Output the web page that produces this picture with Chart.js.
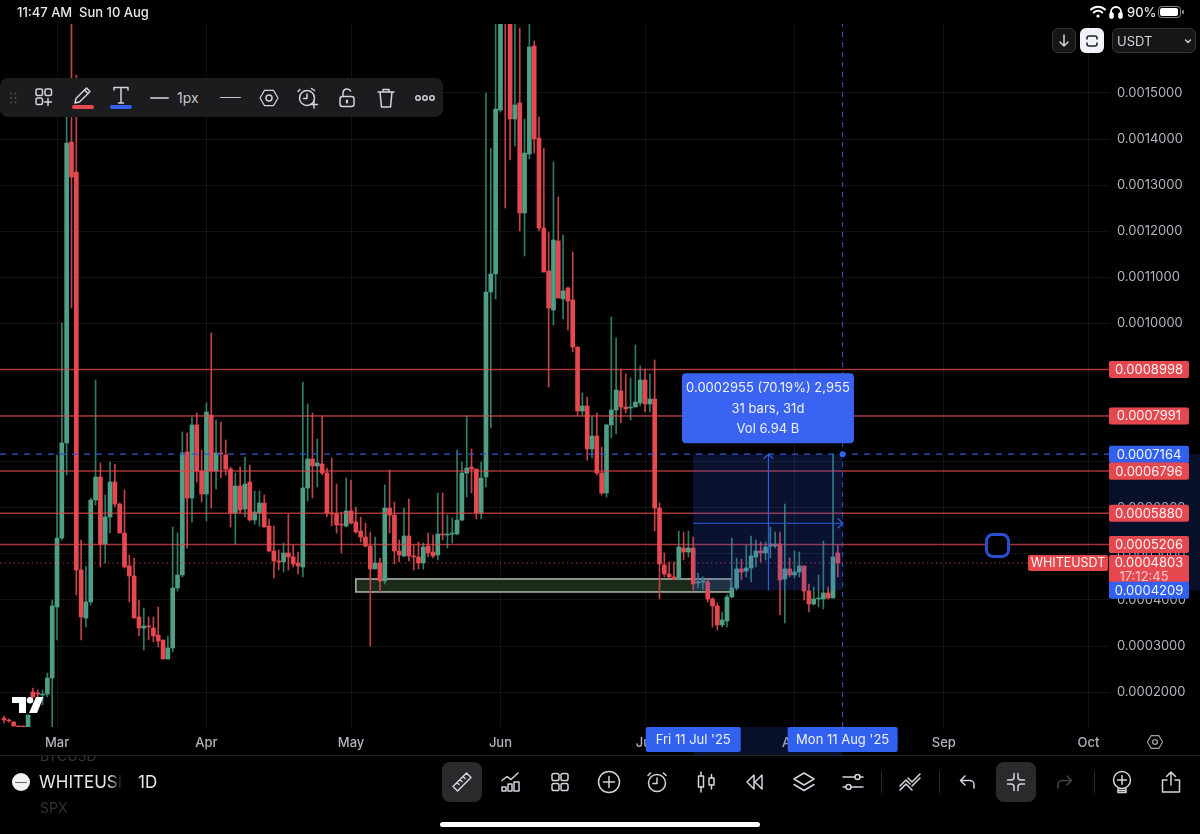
<!DOCTYPE html>
<html>
<head>
<meta charset="utf-8">
<title>WHITEUSDT 1D</title>
<script src="https://cdn.jsdelivr.net/npm/chart.js@4"></script>
<style>
  html, body { margin: 0; padding: 0; background: #000; width: 1200px; height: 834px; overflow: hidden; }
  body { position: relative; font-family: Inter, "Noto Sans", sans-serif; color: #d1d4dc; }
  canvas { position: absolute; left: 0; top: 0; }
  .t { position: absolute; white-space: nowrap; line-height: 1; }
  .box { position: absolute; box-sizing: border-box; border-radius: 6px; }
  svg.i { position: absolute; fill: none; stroke: #d1d4dc; stroke-width: 1.5; stroke-linecap: round; stroke-linejoin: round; overflow: visible; }
</style>
</head>
<body>
<canvas id="priceChart" width="1200" height="755"></canvas>
<div id="chrome"></div>
<script>
// prices are in ticks of 0.0000001, first candle is 11 days before 1 Mar
const firstDay = -11;
const opens = [
  1439,1396,1353,1266,1266,1179,2004,1982,1939,1960,
  2308,3848,5344,7406,13937,13286,4651,3609,3957,6169,
  6668,5214,5800,6560,6082,5453,4738,4521,3631,3392,
  3436,3392,3241,3132,2720,2958,4260,4543,7211,6212,
  7797,6798,6299,8014,6798,7189,7146,6842,5887,6473,
  5974,6560,5735,5887,6104,5605,5063,4846,4825,5020,
  4933,4803,4716,6430,7059,6907,6950,6755,5887,5865,
  5648,5605,5930,5692,5496,5366,5171,4673,4803,4413,
  5995,5843,5063,4955,5388,4955,4933,4803,5171,5041,
  4977,5431,5410,5431,5431,5735,6755,6885,6842,5887,
  6668,10683,11073,14631,17900,17300,14436,14783,12397,13676,
  16020,14023,12071,11138,10292,11789,10531,10770,10509,9489,
  8100,8209,7276,7558,6755,6321,7797,8122,8534,8187,
  8165,8187,8274,8773,8252,8361,5995,4760,4564,4500,
  4456,5127,5041,5127,4369,4391,4391,4022,3870,3458,
  3544,4065,4260,4673,4629,4694,4933,5063,5020,5171,
  5171,5214,4456,4673,4543,4608,4738,4195,3913,4022,
  4022,4152,4043,5020
];
const highs = [
  1483,1418,1353,1266,1266,1504,2090,2047,2047,2416,
  4000,7146,10010,14479,16900,15391,5301,4738,6212,8773,
  6972,6278,6994,6950,6104,6386,4977,4911,4000,3826,
  3631,3631,3848,3132,3219,5583,5453,7645,7623,7970,
  8057,7254,8274,9793,7905,7862,7471,6885,6755,6885,
  7102,6929,6364,6364,6278,5757,5605,5085,5236,5865,
  5193,5041,8730,8252,8057,7493,7992,6863,7080,6516,
  5908,6646,6603,6017,5800,5670,5475,5366,4911,6495,
  6820,6126,5301,5995,6191,5193,5258,5236,5453,5410,
  6321,6321,5843,5778,7254,6994,7992,7276,6842,6994,
  15000,13806,16900,17400,18000,17500,17100,16410,14436,16900,
  16128,14479,13806,11984,13503,12744,11919,10791,11550,9489,
  8491,8404,7992,8057,7319,7818,10140,9684,9012,8903,
  8817,9532,9077,9012,8903,9207,6104,5020,4825,4825,
  5496,5475,5496,5366,4586,4500,4434,4043,3935,3740,
  4109,5344,4911,4890,5193,5388,5301,5258,5258,5583,
  5475,5475,6082,4911,5063,5041,4738,4347,4282,4543,
  5279,4282,7167,5193
];
const lows = [
  1331,1353,1266,1245,1245,1179,1873,1830,1722,1895,
  1245,3132,5301,6712,10335,4109,3132,3414,3891,6060,
  4716,4803,5453,6017,5453,4694,3957,3609,3219,2915,
  3132,3089,2980,2720,2720,2872,4195,4500,5127,5692,
  6560,6126,5713,5995,6408,6646,6712,5583,5214,5887,
  5800,5713,5648,5605,5583,5041,4477,4651,4608,4651,
  4716,4564,4500,6147,6212,6451,6712,5800,5605,5453,
  5020,5583,5648,5453,5258,5150,3002,4673,4174,4347,
  5453,4781,4825,4933,4846,4651,4673,4673,4933,4911,
  4868,5301,5127,5236,5410,5713,6234,6321,5757,5757,
  6451,7731,10531,14588,12505,13546,13850,12006,11464,13568,
  13698,12006,11116,8621,9966,10552,10097,9858,9381,7992,
  8014,7037,7080,6712,6278,6234,7514,7601,7840,8057,
  7905,8187,8209,8078,8078,5496,4022,4500,4477,4434,
  4434,4868,4933,4217,4260,4217,3957,3414,3349,3414,
  3414,4043,4217,4434,4500,4391,4716,4825,4868,4911,
  5127,3674,3501,4500,4477,4500,4000,3740,3891,3848,
  3805,4022,4043,4500
];
const closes = [
  1396,1374,1266,1245,1245,1504,1895,1960,1960,2308,
  3870,5344,7406,13915,13177,4651,3631,3957,6169,6668,
  5214,5800,6560,6082,5453,4716,4521,3609,3392,3436,
  3414,3219,3110,2720,2958,4260,4543,7189,6212,7797,
  6798,6299,8078,6798,7189,7167,6842,5887,6473,5952,
  6516,5735,5908,6104,5583,5063,4846,4825,5020,4933,
  4781,4738,6430,7059,6907,6972,6755,5887,5865,5627,
  5627,5930,5670,5475,5366,5171,4673,4803,4413,5995,
  5843,5063,4977,5388,4955,4933,4803,5150,5020,4955,
  5431,5410,5431,5453,5735,6755,6863,6842,5887,6646,
  10683,11073,14653,17000,17300,14436,14740,12397,13698,15998,
  14002,12071,11116,10335,11811,10552,10704,10487,9489,8100,
  8209,7276,7558,6755,6321,7797,8122,8556,8187,8144,
  8187,8295,8773,8252,8361,5995,4781,4564,4500,4456,
  5150,5041,5127,4347,4391,4413,4022,3870,3458,3566,
  4065,4260,4673,4608,4694,4955,5063,5020,5150,5214,
  5214,4434,4673,4543,4608,4738,4195,3913,4022,4043,
  4152,4043,4933,4803
];

const monthDays = [0, 31, 61, 92, 122, 153, 184, 214];
const monthLabels = ['Mar', 'Apr', 'May', 'Jun', 'Jul', 'Aug', 'Sep', 'Oct'];
const priceTicks = [2000, 3000, 4000, 5000, 6000, 7000, 8000, 9000, 10000, 11000, 12000, 13000, 14000, 15000];
const levelPrices = [8998, 7991, 6796, 5880, 5206];
const lastPrice = 4803;
const measureLow = 4209, measureHigh = 7164;
const measureStartDay = 132, measureEndDay = 163;
const zoneLow = 4174, zoneHigh = 4456, zoneStartDay = 62, zoneEndDay = 139.9;

const DAY_MIN = -11.83, DAY_MAX = 218.26, PRICE_MIN = 1244, PRICE_MAX = 16497;
const RED = '#e5484f', GREEN = '#4f9f87', BLUE = '#3261f0';

const fmtPrice = v => (v / 1e7).toFixed(7);
const days = opens.map((_, i) => firstDay + i);
const isUp = i => closes[i] >= opens[i];

const wickData = days.map((d, i) => ({ x: d, y: [lows[i], highs[i]] }));
const bodyData = days.map((d, i) => ({ x: d, y: [opens[i], closes[i]] }));

function hLine(price, color, width, dash, end) {
    return {
        type: 'line',
        data: [{ x: DAY_MIN, y: price }, { x: end === undefined ? DAY_MAX : end, y: price }],
        borderColor: color, borderWidth: width, borderDash: dash || [],
        pointRadius: 0, order: 1
    };
}

// drawn through the scales, so they follow the axes
const overlayPlugin = {
    id: 'overlay',
    beforeDatasetsDraw(chart) {
        const { ctx, scales: { x, y } } = chart;
        const x0 = x.getPixelForValue(zoneStartDay), x1 = x.getPixelForValue(zoneEndDay);
        const y0 = y.getPixelForValue(zoneHigh), y1 = y.getPixelForValue(zoneLow);
        ctx.save();
        ctx.fillStyle = '#1c2a1a';
        ctx.strokeStyle = '#b3bbb0';
        ctx.lineWidth = 1.5;
        ctx.fillRect(x0, y0, x1 - x0, y1 - y0);
        ctx.strokeRect(x0, y0, x1 - x0, y1 - y0);
        ctx.restore();
    },
    afterDatasetsDraw(chart) {
        const { ctx, chartArea, scales: { x, y } } = chart;
        const x0 = x.getPixelForValue(measureStartDay), x1 = x.getPixelForValue(measureEndDay);
        const y0 = y.getPixelForValue(measureHigh), y1 = y.getPixelForValue(measureLow);
        const midX = (x0 + x1) / 2 + 0.5, midY = (y0 + y1) / 2 + 1;
        ctx.save();
        ctx.fillStyle = 'rgba(50,90,240,0.2)';
        ctx.fillRect(x0, y0, x1 - x0, y1 - y0);
        // same range on the two axes
        ctx.fillStyle = 'rgba(50,90,240,0.17)';
        ctx.fillRect(chartArea.right, y0, 1200 - chartArea.right, y1 - y0);
        ctx.fillRect(x0, chartArea.bottom, x1 - x0, 28);

        ctx.strokeStyle = '#2f5be0';
        ctx.lineWidth = 1.2;
        ctx.beginPath();
        ctx.moveTo(midX, y1); ctx.lineTo(midX, y0);
        ctx.moveTo(midX - 5, y0 + 5); ctx.lineTo(midX, y0); ctx.lineTo(midX + 5, y0 + 5);
        ctx.moveTo(x0, midY); ctx.lineTo(x1, midY);
        ctx.moveTo(x1 - 5, midY - 5); ctx.lineTo(x1, midY); ctx.lineTo(x1 - 5, midY + 5);
        ctx.stroke();

        ctx.fillStyle = '#3261f0';
        ctx.beginPath();
        ctx.arc(x1, y0, 3, 0, Math.PI * 2);
        ctx.fill();
        ctx.restore();
    },
    afterDraw(chart) {
        const { ctx, chartArea, scales: { x, y } } = chart;
        const tagX = chartArea.right, tagW = 80;
        ctx.save();
        ctx.textBaseline = 'middle';
        ctx.font = '13px Inter';

        const tag = (price, color) => {
            const py = y.getPixelForValue(price);
            ctx.fillStyle = color;
            roundRect(ctx, tagX, py - 8.5, tagW, 17, 2);
            ctx.fill();
            ctx.fillStyle = '#f3f4f6';
            ctx.textAlign = 'center';
            ctx.fillText(fmtPrice(price), tagX + tagW / 2, py + 0.5);
        };

        levelPrices.forEach(p => tag(p, RED));
        tag(measureHigh, BLUE);
        tag(levelPrices[2], RED);

        // last price with countdown
        const lastY = y.getPixelForValue(lastPrice);
        ctx.fillStyle = RED;
        roundRect(ctx, tagX, lastY - 8, tagW, 28, 2);
        ctx.fill();
        ctx.fillStyle = '#f3f4f6';
        ctx.textAlign = 'center';
        ctx.fillText(fmtPrice(lastPrice), tagX + tagW / 2, lastY + 0.5);
        ctx.fillStyle = '#f5c9cb';
        ctx.fillText('17:12:45', tagX + tagW / 2 - 5, lastY + 14.5);
        tag(measureLow, BLUE);

        // symbol tag left of the axis
        ctx.fillStyle = RED;
        roundRect(ctx, tagX - 81, lastY - 8, 80, 16, 2);
        ctx.fill();
        ctx.fillStyle = '#f3f4f6';
        ctx.font = '12.5px Inter';
        ctx.fillText('WHITEUSDT', tagX - 41, lastY + 0.5);

        // info box of the measure tool
        const bx = (x.getPixelForValue(measureStartDay) + x.getPixelForValue(measureEndDay)) / 2;
        ctx.fillStyle = '#3a63f2';
        roundRect(ctx, bx - 86, y.getPixelForValue(measureHigh) - 81, 172, 70, 4);
        ctx.fill();
        ctx.fillStyle = '#eef1ff';
        ctx.font = '13px Inter';
        const by = y.getPixelForValue(measureHigh) - 66;
        ctx.fillText('0.0002955 (70.19%) 2,955', bx, by);
        ctx.fillText('31 bars, 31d', bx, by + 20.5);
        ctx.fillText('Vol 6.94 B', bx, by + 41);

        // date tags on the time axis
        const dateTag = (day, w, text) => {
            const px = x.getPixelForValue(day);
            ctx.fillStyle = BLUE;
            roundRect(ctx, px - w / 2, chartArea.bottom, w, 25, 2);
            ctx.fill();
            ctx.fillStyle = '#eef1ff';
            ctx.fillText(text, px, chartArea.bottom + 13.5);
        };
        dateTag(measureStartDay, 95, "Fri 11 Jul '25");
        dateTag(measureEndDay, 110, "Mon 11 Aug '25");
        ctx.restore();
    }
};

function roundRect(ctx, x, y, w, h, r) {
    ctx.beginPath();
    ctx.roundRect(x, y, w, h, r);
}

new Chart(document.getElementById('priceChart').getContext('2d'), {
    type: 'bar',
    data: {
        datasets: [
            hLine(levelPrices[0], 'rgba(229,72,79,0.72)', 1.5),
            hLine(levelPrices[1], 'rgba(229,72,79,0.72)', 1.5),
            hLine(levelPrices[2], 'rgba(229,72,79,0.72)', 1.5),
            hLine(levelPrices[3], 'rgba(229,72,79,0.72)', 1.5),
            hLine(levelPrices[4], 'rgba(229,72,79,0.72)', 1.5),
            hLine(lastPrice, 'rgba(229,72,79,0.7)', 1, [1.5, 3], 201.5),
            hLine(measureHigh, '#2f55d0', 1.3, [6, 6]),
            {
                type: 'line',
                data: [{ x: measureEndDay, y: PRICE_MIN }, { x: measureEndDay, y: PRICE_MAX }],
                borderColor: '#2f55d0', borderWidth: 1, borderDash: [5, 5],
                pointRadius: 0, order: 1
            },
            {
                data: bodyData,
                backgroundColor: days.map((_, i) => isUp(i) ? GREEN : RED),
                barThickness: 4, grouped: false, order: 2
            },
            {
                data: wickData,
                backgroundColor: days.map((_, i) => isUp(i) ? '#2f7d69' : '#c0434a'),
                barThickness: 1, grouped: false, order: 3
            }
        ]
    },
    options: {
        responsive: false,
        animation: false,
        layout: { padding: { top: 24, left: 0, right: 0, bottom: 0 } },
        plugins: { legend: { display: false }, tooltip: { enabled: false } },
        scales: {
            x: {
                type: 'linear',
                offset: false,
                min: DAY_MIN,
                max: DAY_MAX,
                afterBuildTicks: s => { s.ticks = monthDays.map(v => ({ value: v })); },
                afterFit: s => { s.height = 28; },
                grid: { color: 'rgba(255,255,255,0.07)', drawTicks: false, offset: false },
                border: { display: false },
                ticks: {
                    autoSkip: false, maxRotation: 0, padding: 8,
                    color: '#b2b5be', font: { family: 'Inter', size: 13, weight: '500' },
                    callback: v => monthLabels[monthDays.indexOf(v)]
                }
            },
            y: {
                position: 'right',
                min: PRICE_MIN,
                max: PRICE_MAX,
                afterBuildTicks: s => { s.ticks = priceTicks.map(v => ({ value: v })); },
                afterFit: s => { s.width = 91; },
                grid: { color: 'rgba(255,255,255,0.07)', drawTicks: false },
                border: { display: false },
                ticks: {
                    autoSkip: false, padding: 8,
                    color: '#b2b5be', font: { family: 'Inter', size: 13 },
                    callback: v => fmtPrice(v)
                }
            }
        }
    },
    plugins: [overlayPlugin]
});

// app chrome around the chart
const chrome = document.getElementById('chrome');
function text(s, x, y, size, color, extra) {
    chrome.insertAdjacentHTML('beforeend',
        `<span class="t" style="left:${x}px;top:${y - size / 2}px;font-size:${size}px;color:${color || '#d1d4dc'};${extra || ''}">${s}</span>`);
}
function box(x, y, w, h, style) {
    chrome.insertAdjacentHTML('beforeend',
        `<div class="box" style="left:${x}px;top:${y}px;width:${w}px;height:${h}px;${style}"></div>`);
}
// icon in a 24 box centred on cx, cy
function icon(cx, cy, body, style) {
    chrome.insertAdjacentHTML('beforeend',
        `<svg class="i" width="24" height="24" viewBox="0 0 24 24" style="left:${cx - 12}px;top:${cy - 12}px;${style || ''}">${body}</svg>`);
}

// status bar
text('11:47 AM', 17, 12, 13, '#e8e8e8', 'font-weight:500');
text('Sun 10 Aug', 79, 12, 13, '#e8e8e8', 'font-weight:500');
icon(1098, 12, '<path d="M5 9.5a10 10 0 0 1 14 0M7.8 12.5a6 6 0 0 1 8.4 0" stroke="#fff" stroke-width="2"/><circle cx="12" cy="16" r="1.6" fill="#fff" stroke="none"/>');
icon(1116, 12, '<path d="M7 16v-4a5 5 0 0 1 10 0v4" stroke="#fff" stroke-width="1.8"/><rect x="6" y="13" width="3" height="5" rx="1" fill="#fff" stroke="#fff"/><rect x="15" y="13" width="3" height="5" rx="1" fill="#fff" stroke="#fff"/>');
text('90%', 1127, 12, 13, '#e8e8e8', 'font-weight:500');
box(1158, 6, 23, 12, 'border:1px solid #888;border-radius:3.5px');
box(1160, 8, 18, 8, 'background:#fff;border-radius:2px');
box(1182, 10, 1.5, 4, 'background:#888;border-radius:1px');

// top right buttons
box(1052, 28, 24, 25, 'background:#161616;border:1px solid #333');
icon(1064, 41, '<path d="M12 6v11M8 13l4 4 4-4"/>');
box(1080, 28, 24, 25, 'background:#f0f3fa');
icon(1092, 41, '<path d="M7 10V9a2 2 0 0 1 2-2h6a2 2 0 0 1 2 2v1M7 14v1a2 2 0 0 0 2 2h6a2 2 0 0 0 2-2v-1" stroke="#222"/>');
box(1112, 28, 84, 25, 'background:#161616;border:1px solid #333');
text('USDT', 1117, 41, 13, '#d1d4dc');
icon(1188, 41, '<path d="M9.5 11l2.5 2.5 2.5-2.5" stroke-width="1.4"/>');

// drawing toolbar
box(0, 78, 443, 39, 'background:#1c1c1e;border-radius:8px');
icon(13, 98, [0, 1].map(c => [0, 1, 2].map(r => `<circle cx="${10 + c * 4.5}" cy="${7.5 + r * 4.5}" r="0.9" fill="#555" stroke="none"/>`).join('')).join(''));
icon(44, 97, '<rect x="4" y="4" width="6.5" height="6.5" rx="1.5"/><rect x="13" y="4" width="6.5" height="6.5" rx="1.5"/><rect x="4" y="13" width="6.5" height="6.5" rx="1.5"/><path d="M16 13.5v7M12.5 17h7"/>');
icon(82, 95, '<path d="M5 20l1-4.5L16.5 5l3.5 3.5L9.5 19z"/><path d="M14.5 7l3.5 3.5"/>');
box(72, 105, 22, 4, `background:${RED};border-radius:2px`);
icon(121, 95, '<path d="M5 7V4.5h14V7M12 4.5V20M9.5 20h5"/>');
box(110, 105, 22, 4, `background:${BLUE};border-radius:2px`);
box(150, 97, 19, 1.5, 'background:#a8aab0;border-radius:1px');
text('1px', 177, 98, 14, '#c4c6cc');
box(220, 96.5, 21, 1.5, 'background:#c4c6cc;border-radius:1px');
icon(269, 98, '<path d="M7 3.5h10l5 8.5-5 8.5H7L2 12z" stroke-width="1.3" transform="translate(1.2 1.2) scale(.9)"/><circle cx="12" cy="12" r="3"/>');
icon(308, 98, '<circle cx="11" cy="12" r="7.5"/><path d="M11 8v4.5H7.5M4 3.5L2 5.5M15.5 2.5l3 2"/><path d="M18 15v7M14.5 18.5h7" />');
icon(347, 98, '<rect x="5" y="10.5" width="14" height="10" rx="2.5"/><path d="M8 10.5V7a4 4 0 0 1 7.5-2"/><path d="M12 14.5v2" stroke-width="2.2"/>');
icon(386, 98, '<path d="M4 6h16M9 6V3.5h6V6M6 6l1.5 15h9L18 6"/>');
icon(425, 98, '<circle cx="5" cy="12" r="2.2"/><circle cx="12" cy="12" r="2.2"/><circle cx="19" cy="12" r="2.2"/>');

// measure handle right of the chart
box(985, 532.5, 25, 25, 'background:#000;border:3.5px solid #2a4ed0;border-radius:8px');

// TV logo
chrome.insertAdjacentHTML('beforeend',
    '<svg style="position:absolute;left:12px;top:697px" width="32" height="16" viewBox="0 0 32 16"><path d="M0 0h14v16H7V6H0z" fill="#fff"/><circle cx="18" cy="3.3" r="3.2" fill="#fff"/><path d="M24 0h7.5l-6.5 16h-8z" fill="#fff"/></svg>');

// settings hexagon on the axis
icon(1155, 742, '<path d="M7.5 4.5h9L21 12l-4.500 7.500h-9L3 12z" stroke="#a0a3ab" stroke-width="1.300" transform="translate(1.800 1.800) scale(.85)"/><circle cx="12" cy="12" r="2.400" stroke="#a0a3ab" stroke-width="1.300"/>');

// bottom bar
box(0, 755, 1200, 1, 'background:#222;border-radius:0');
chrome.insertAdjacentHTML('beforeend', '<div style="position:absolute;left:40px;top:756px;width:100px;height:8px;overflow:hidden"><span class="t" style="left:0;top:-7px;font-size:14px;color:#333">BTCUSD</span></div>');
chrome.insertAdjacentHTML('beforeend', '<div style="position:absolute;left:40px;top:801px;width:100px;height:12px;overflow:hidden"><span class="t" style="left:0;top:0;font-size:14px;color:#333">SPX</span></div>');
box(12, 773, 18, 18, 'background:#f2f2f2;border-radius:50%');
box(15, 781.5, 12, 1.5, 'background:#666;border-radius:1px');
chrome.insertAdjacentHTML('beforeend', '<div style="position:absolute;left:39px;top:772px;width:83px;height:22px;overflow:hidden;-webkit-mask-image:linear-gradient(90deg,#000 84%,transparent)"><span class="t" style="left:0;top:2px;font-size:17px;color:#e8e8e8">WHITEUSDT</span></div>');
text('1D', 138, 782, 17, '#e8e8e8');

box(442, 762, 40, 40, 'background:#2a2a2c;border-radius:8px');
box(996, 762, 40, 40, 'background:#2a2a2c;border-radius:8px');
icon(462, 782, '<path d="M3 16.500L16.500 3l4.500 4.500L7.500 21zM7 12.500l2 2M10 9.500l2 2M13 6.500l2 2"/>');
icon(511, 782, '<path d="M3 10.500l5-4 4 3 7-6.500M3 21v-4h4v4zM9 21v-7h4v7zM15 21v-9h5v9z"/>');
icon(560, 782, '<rect x="4" y="3.500" width="7" height="7" rx="1.800"/><rect x="13" y="3.500" width="7" height="7" rx="1.800"/><rect x="4" y="13.500" width="7" height="7" rx="1.800"/><rect x="13" y="13.500" width="7" height="7" rx="1.800"/>');
icon(609, 782, '<circle cx="12" cy="12" r="10.500"/><path d="M12 6.500v11M6.500 12h11"/>');
icon(657, 782, '<circle cx="12" cy="13" r="8.500"/><path d="M12 8v5.500H8M3 5.500L5.500 3M21 5.500L18.500 3"/>');
icon(707, 782, '<rect x="3.500" y="6" width="5" height="11"/><path d="M6 2v4M6 17v5"/><rect x="14" y="8" width="5" height="7"/><path d="M16.500 4.500V8M16.500 15v4"/>');
icon(755, 782, '<path d="M11 5l-7 7 7 7zM19 5l-7 7 7 7z" />');
icon(804, 782, '<path d="M12 3l10 6-10 6L2 9zM2 14.500l10 6 10-6"/>');
icon(853, 782, '<path d="M2 7h12M19 7h3M2 17h3M10 17h12"/><circle cx="16.500" cy="7" r="2.500"/><circle cx="7.500" cy="17" r="2.500"/>');
box(881, 771, 1, 22, 'background:#2a2a2a;border-radius:0');
icon(910, 782, '<path d="M2 16l6-6 4 4M2 20l6-6 6 6M10 8l4 4 8-8M14 16l8-8" stroke-width="1.600"/>');
box(939, 771, 1, 22, 'background:#2a2a2a;border-radius:0');
icon(967, 782, '<path d="M10 6L5.500 10.500 10 15M5.500 10.500H15a4 4 0 0 1 4 4V18"/>');
icon(1016, 782, '<path d="M10 3.500V7a3 3 0 0 1-3 3H3.500M14 3.500V7a3 3 0 0 0 3 3h3.500M10 20.500V17a3 3 0 0 0-3-3H3.500M14 20.500V17a3 3 0 0 1 3-3h3.500"/>');
icon(1065, 782, '<path d="M14 6l4.500 4.500L14 15M18.500 10.500H9a4 4 0 0 0-4 4V18" stroke="#444"/>');
box(1094, 771, 1, 22, 'background:#2a2a2a;border-radius:0');
icon(1122, 782, '<circle cx="12" cy="10" r="8.500"/><path d="M12 5.500v9M7.500 10h9M8 18.500v4h8v-4M8 20.500h8"/>');
icon(1171, 782, '<path d="M12 15V2M7.500 6.500L12 2l4.500 4.500M8 10H3.500v12h17V10H16"/>');
box(440, 822, 320, 5, 'background:#fff;border-radius:3px');
</script>
</body>
</html>
